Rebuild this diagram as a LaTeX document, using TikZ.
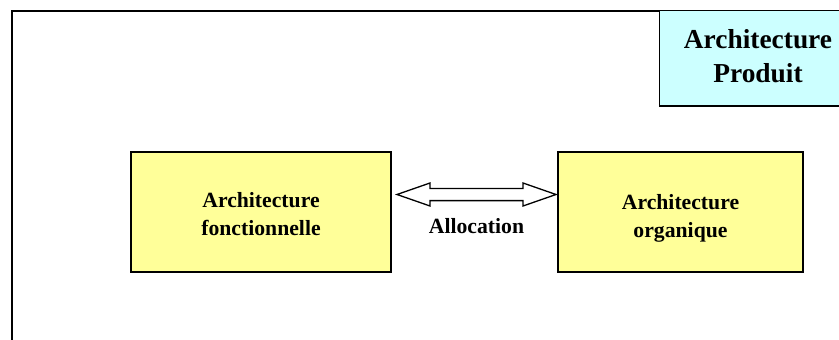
\documentclass[tikz,border=0pt]{standalone}
\usepackage{fontspec}
\setmainfont{Liberation Serif}
\usepackage{tikz}
\usetikzlibrary{calc}
\pgfdeclarelayer{edgelayer}
\pgfdeclarelayer{nodelayer}
\pgfsetlayers{edgelayer,nodelayer,main}
\definecolor{archyellow}{RGB}{255,255,153}
\definecolor{archcyan}{RGB}{204,255,255}
\tikzstyle{none}=[inner sep=0pt]
\tikzstyle{archbox}=[draw=black, line width=1.5pt, fill=archyellow, minimum height=120pt, inner sep=0pt]
\tikzstyle{archtext}=[inner sep=0pt, align=center, font=\bfseries\fontsize{21.7}{28}\selectfont]
\tikzstyle{titletext}=[inner sep=0pt, align=center, font=\bfseries\fontsize{27.4}{34}\selectfont]
\tikzstyle{hollow}=[draw=black, line width=1.3pt, fill=white, line join=miter]

\begin{document}
\begin{tikzpicture}[x=1pt, y=-1pt]
	\useasboundingbox (0, 0) rectangle (839, 340);
	\begin{pgfonlayer}{nodelayer}
		\node [style=archbox, minimum width=260pt] (fonc) at (261, 212) {};
		\node [style=archbox, minimum width=245pt] (orga) at (680.5, 212) {};
		\node [style=archtext] (foncname) at (261, 214) {Architecture\\fonctionnelle};
		\node [style=archtext] (organame) at (680.5, 218) {Architecture\\organique};
		\node [style=archtext] (alloc) at (476.5, 226.5) {Allocation};
		\node [style=titletext] (prod) at (758, 56) {Architecture\\Produit};
		\coordinate (aL) at (397, 194.5);
		\coordinate (aR) at (556, 194.5);
	\end{pgfonlayer}
	\begin{pgfonlayer}{edgelayer}
		\draw [line width=2pt] (839, 10.5) -- (11.5, 10.5) -- (11.5, 340);
		\draw [line width=1.5pt, fill=archcyan] (839, 10.5) -- (659.5, 10.5) -- (659.5, 106) -- (839, 106);
		\draw [style=hollow] (aL) -- ++(33, -11.5) -- ++(0, 5.4) -- ($(aR)+(-33, -6.1)$) -- ++(0, -5.4) -- (aR) -- ++(-33, 11.5) -- ++(0, -5.4) -- ($(aL)+(33, 6.1)$) -- ++(0, 5.4) -- cycle;
	\end{pgfonlayer}
\end{tikzpicture}
\end{document}
